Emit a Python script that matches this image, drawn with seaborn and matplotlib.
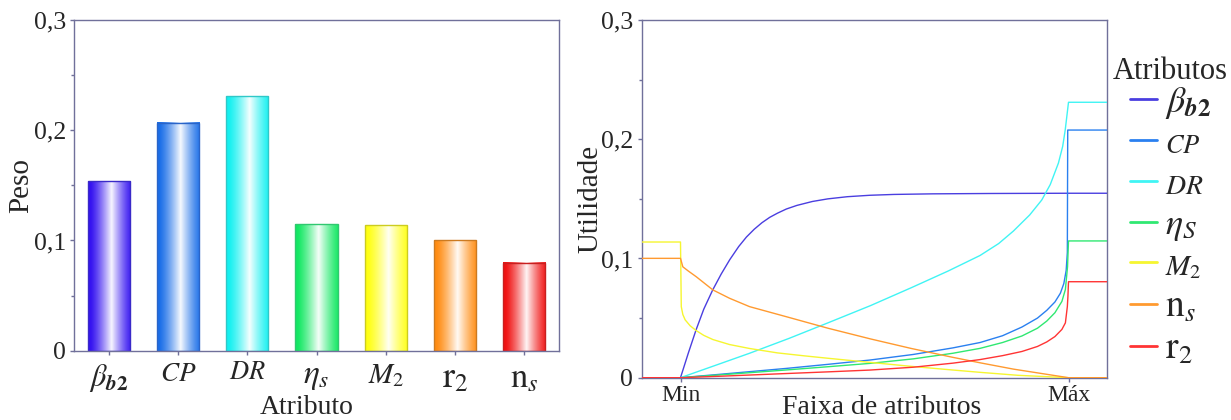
import numpy as np
import pandas as pd
import matplotlib
matplotlib.use("Agg")
import matplotlib.pyplot as plt
import seaborn as sns
from matplotlib.colors import to_rgb
from matplotlib.lines import Line2D
from matplotlib.ticker import MultipleLocator

# ---------------- data ----------------
# Attribute weights (left panel)
bar_keys = ["beta", "CP", "DR", "eta", "M2", "r2", "ns"]
bar_labels = [r"$\beta_{\boldsymbol{b2}}$", r"$CP$", r"$DR$", r"$\eta_s$",
              r"$M_2$", r"$\mathrm{r}_2$", r"$\mathrm{n}_s$"]
bar_label_sizes = [22, 19.5, 19, 24, 21, 26, 25]
weights = [0.154, 0.207, 0.231, 0.115, 0.114, 0.100, 0.080]
bar_colors = ["#3412f0", "#1a6ee8", "#12f0f0", "#12e862", "#ffff12", "#ff8c12", "#f01212"]
bar_edges = ["#3a2ac8", "#2a64c8", "#30c8c8", "#30c870", "#cccc20", "#cc7a20", "#c82020"]

# Utility curves (right panel), x: 0 = Min, 1 = Máx
beta_x = [-0.1, 0, 0.02, 0.04, 0.06, 0.083, 0.105, 0.127, 0.15, 0.17, 0.19, 0.21, 0.23, 0.25,
          0.273, 0.3, 0.34, 0.38, 0.43, 0.488, 0.55, 0.65, 0.8, 1.0, 1.1]
beta_y = [0, 0, 0.0205, 0.040, 0.0575, 0.0736, 0.087, 0.099, 0.110, 0.118, 0.1245, 0.130, 0.1345, 0.138,
          0.1415, 0.1445, 0.1478, 0.150, 0.1518, 0.1530, 0.1537, 0.1542, 0.1545, 0.1547, 0.1547]

cp_x = [-0.1, 0, 0.1, 0.273, 0.38, 0.488, 0.6, 0.702, 0.772, 0.83, 0.88, 0.92, 0.944, 0.965,
        0.979, 0.988, 0.994, 0.997, 0.998, 1.1]
cp_y = [0, 0, 0.0028, 0.0078, 0.0112, 0.0148, 0.0195, 0.025, 0.0295, 0.0352, 0.0425, 0.050, 0.0565, 0.0635,
        0.0708, 0.079, 0.090, 0.105, 0.2077, 0.2077]

dr_x = [-0.1, 0, 0.1, 0.178, 0.28, 0.38, 0.49, 0.595, 0.69, 0.772, 0.82, 0.858, 0.90, 0.931,
        0.953, 0.974, 0.985, 0.9915, 0.996, 0.998, 1.0, 1.1]
dr_y = [0, 0, 0.0115, 0.0205, 0.033, 0.046, 0.0605, 0.0755, 0.0895, 0.1025, 0.1125, 0.123, 0.1365, 0.149,
        0.162, 0.180, 0.194, 0.2077, 0.220, 0.2255, 0.231, 0.231]

eta_x = [-0.1, 0, 0.1, 0.273, 0.38, 0.488, 0.6, 0.702, 0.772, 0.83, 0.88, 0.92, 0.944, 0.965,
         0.983, 0.992, 0.9975, 1.0, 1.1]
eta_y = [0, 0, 0.0023, 0.0065, 0.0092, 0.012, 0.0158, 0.0205, 0.0246, 0.0295, 0.035, 0.0415, 0.0475, 0.0545,
         0.064, 0.074, 0.093, 0.1147, 0.1147]

m2_x = [-0.1, 0, 0.002, 0.006, 0.012, 0.025, 0.0405, 0.06, 0.0835, 0.1265, 0.178, 0.25, 0.32, 0.38,
        0.49, 0.595, 0.70, 0.772, 0.87, 1.0, 1.1]
m2_y = [0.1138, 0.1138, 0.0596, 0.053, 0.0485, 0.0435, 0.0395, 0.0355, 0.032, 0.0278, 0.0245, 0.0208, 0.0183, 0.0163,
        0.0128, 0.0095, 0.0065, 0.0045, 0.002, 0, 0]

ns_x = [-0.1, 0, 0.006, 0.02, 0.0405, 0.0835, 0.1265, 0.178, 0.28, 0.38, 0.49, 0.595, 0.70, 0.772,
        0.858, 1.0, 1.1]
ns_y = [0.1001, 0.1001, 0.093, 0.0895, 0.0847, 0.0736, 0.0666, 0.0596, 0.0505, 0.0415, 0.0325, 0.0245, 0.0172, 0.0125,
        0.0072, 0, 0]

r2_x = [-0.1, 0, 0.1, 0.273, 0.38, 0.488, 0.6, 0.702, 0.772, 0.83, 0.88, 0.92, 0.944, 0.965,
        0.983, 0.992, 0.997, 0.9985, 1.0, 1.1]
r2_y = [0, 0, 0.0012, 0.0035, 0.0049, 0.0064, 0.0088, 0.0122, 0.0152, 0.0185, 0.022, 0.0262, 0.030, 0.0345,
        0.0405, 0.046, 0.0596, 0.068, 0.0805, 0.0805]

curve_names = ["beta", "CP", "DR", "eta", "M2", "ns", "r2"]
curve_labels = [r"$\beta_{\boldsymbol{b2}}$", r"$CP$", r"$DR$", r"$\eta_S$",
                r"$M_2$", r"$\mathrm{n}_s$", r"$\mathrm{r}_2$"]
curve_label_sizes = [26, 19, 20, 26, 21, 27, 27]
curve_xs = [beta_x, cp_x, dr_x, eta_x, m2_x, ns_x, r2_x]
curve_ys = [beta_y, cp_y, dr_y, eta_y, m2_y, ns_y, r2_y]
curve_colors = ["#4a3ee0", "#2a80f0", "#40f4f4", "#30e872", "#f6f630", "#ff9a30", "#ff3434"]

y_ticks = [0, 0.1, 0.2, 0.3]
y_tick_labels = ["0", "0,1", "0,2", "0,3"]
range_ticks = [0, 1]
range_labels = ["Min", "Máx"]

# ---------------- style ----------------
sns.set_theme(style="white")
plt.rcParams["font.family"] = ["Liberation Serif", "DejaVu Serif"]
plt.rcParams["mathtext.fontset"] = "stix"
spine_c = "#70709a"

W, H = 1231, 420
fig = plt.figure(figsize=(W / 100, H / 100), dpi=100)
ax1 = fig.add_axes([74.3 / W, 1 - 350.7 / H, (558.9 - 74.3) / W, (350.7 - 20) / H])
ax2 = fig.add_axes([641.7 / W, 1 - 377.7 / H, (1107.3 - 641.7) / W, (377.7 - 20) / H])

for ax in (ax1, ax2):
    for s in ax.spines.values():
        s.set_color(spine_c)
        s.set_linewidth(1.0)
    ax.tick_params(which="both", direction="out", color=spine_c, width=1.0,
                   left=True, bottom=True, labelsize=18.5, pad=3)
    ax.tick_params(which="major", length=3)
    ax.tick_params(which="minor", length=2)
    ax.set_ylim(0, 0.3)
    ax.set_yticks(y_ticks)
    ax.set_yticklabels(y_tick_labels)
    ax.yaxis.set_minor_locator(MultipleLocator(0.05))

# ---------------- left panel: weights ----------------
wdf = pd.DataFrame({"Atributo": bar_keys, "Peso": weights})
sns.barplot(data=wdf, x="Atributo", y="Peso", hue="Atributo", hue_order=bar_keys,
            palette=bar_colors, width=0.61, legend=False, ax=ax1)

# white-centred shading inside every bar
u = np.linspace(0, 1, 256)
mix = np.clip(1 - np.abs(u - 0.55) / 0.5, 0, 1) ** 1.3 * 0.96
for patch, col, ec in zip(ax1.patches, bar_colors, bar_edges):
    x0, y0 = patch.get_x(), patch.get_y()
    w, h = patch.get_width(), patch.get_height()
    rgb = np.array(to_rgb(col))
    img = rgb[None, :] * (1 - mix[:, None]) + mix[:, None]
    ax1.imshow(img[None, :, :], extent=[x0, x0 + w, y0, y0 + h], aspect="auto",
               interpolation="bilinear", zorder=1)
    patch.set_facecolor("none")
    patch.set_edgecolor(ec)
    patch.set_linewidth(1.0)
    patch.set_zorder(2)

ax1.set_xlim(-0.5, 6.5)
ax1.set_ylim(0, 0.3)
ax1.set_xticks(range(len(bar_labels)))
ax1.set_xticklabels(bar_labels)
for t, fs in zip(ax1.get_xticklabels(), bar_label_sizes):
    t.set_fontsize(fs)
ax1.tick_params(axis="x", pad=5)
ax1.set_xlabel("Atributo", fontsize=20, va="bottom")
ax1.set_ylabel("Peso", fontsize=21)
ax1.xaxis.set_label_coords(0.48, (350.7 - 419.5) / 330.7)
ax1.yaxis.set_label_coords(-0.083, 0.5)

# ---------------- right panel: utility curves ----------------
frames = []
for name, xs, ys in zip(curve_names, curve_xs, curve_ys):
    frames.append(pd.DataFrame({"x": xs, "y": ys, "attr": name}))
cdf = pd.concat(frames, ignore_index=True)
sns.lineplot(data=cdf, x="x", y="y", hue="attr", hue_order=curve_names,
             palette=curve_colors, sort=False, estimator=None, linewidth=1.0,
             legend=False, ax=ax2, zorder=3)

ax2.set_xlim(-0.1, 1.1)
ax2.set_ylim(0, 0.3)
ax2.set_xticks(range_ticks)
ax2.set_xticklabels(range_labels, fontsize=17)
ax2.tick_params(axis="x", pad=2)
ax2.set_xlabel("Faixa de atributos", fontsize=20, va="bottom")
ax2.set_ylabel("Utilidade", fontsize=21)
ax2.xaxis.set_label_coords(0.516, (377.7 - 419.5) / 357.7)
ax2.yaxis.set_label_coords(-0.083, 0.5)

handles = [Line2D([], [], color=c, lw=2.0) for c in curve_colors]
leg = ax2.legend(handles, curve_labels, loc="upper left",
                 bbox_to_anchor=(1130 / W, 1 - 85 / H), bbox_transform=fig.transFigure,
                 frameon=False, borderpad=0, borderaxespad=0, fontsize=16,
                 handlelength=1.22, handleheight=2.2, handletextpad=0.36,
                 labelspacing=0.16)
for t, fs in zip(leg.get_texts(), curve_label_sizes):
    t.set_fontsize(fs)
fig.text(1113 / W, 1 - 79 / H, "Atributos", fontsize=22, ha="left", va="baseline")

fig.savefig("out.png", dpi=100)
